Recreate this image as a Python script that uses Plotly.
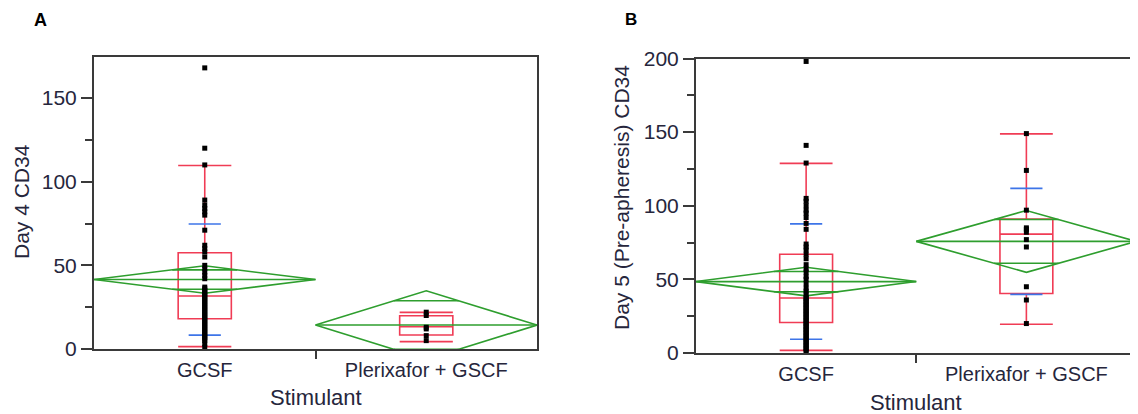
import math
import plotly.graph_objects as go

# ---------------- data ----------------
categories = ["GCSF", "Plerixafor + GSCF"]

# Panel A : Day 4 CD34 (individual values)
a_gcsf_pts = [168, 120, 110, 89, 86, 84, 82, 80, 71, 62, 60, 58, 55, 50, 48, 46, 44, 42,
              37, 36, 35, 34, 33, 32, 31, 30, 29, 28, 27, 26, 25, 24, 23, 22, 21, 20,
              19, 18, 17, 16, 15, 14, 13, 12, 11, 10, 9, 8, 7, 6, 5, 3, 1]
a_plx_pts = [22, 20, 13, 12, 8, 5]

# Panel B : Day 5 (pre-apheresis) CD34
b_gcsf_pts = [198, 141, 129, 105, 103, 100, 97, 95, 92, 88, 84, 74, 72, 70, 67, 64, 60,
              57, 55, 52, 50, 47, 44, 42, 40, 38, 37, 36, 35, 34, 33, 32, 31, 30, 29,
              28, 27, 26, 25, 24, 23, 22, 21, 20, 19, 18, 17, 16, 15, 14, 13, 12, 11,
              10, 9, 8, 7, 6, 5, 4, 3, 2, 1]
b_plx_pts = [149, 124, 97, 85, 84, 82, 77, 72, 45, 36, 20]

# summary statistics (per category)
a_mean = [41.5, 14.3]
a_ci = [8.2, 20.5]
a_sd = [33.2, 0.0]
a_q1 = [18.1, 8.4]
a_median = [31.7, 13.3]
a_q3 = [57.5, 19.9]
a_lo = [1.4, 4.4]
a_hi = [109.7, 21.9]

b_mean = [48.5, 75.8]
b_ci = [9.7, 21.0]
b_sd = [39.2, 36.0]
b_q1 = [20.7, 40.4]
b_median = [37.4, 80.7]
b_q3 = [67.1, 91.0]
b_lo = [1.8, 19.5]
b_hi = [128.8, 148.8]

a_ytitle = "Day 4 CD34"
b_ytitle = "Day 5 (Pre-apheresis) CD34"
xtitle = "Stimulant"

# ---------------- style ----------------
OFF = 8                      # page body margin
W, H = 1138 - OFF, 414 - OFF  # figure size


def px(x):
    return (x - OFF) / W


def py(y):
    return 1 - (y - OFF) / H


GREEN = "#2e9e2e"
RED = "#f03c55"
BLUE = "#3d74e8"
AX = "#3a3a3a"
TXT = "#26263c"
FONT = "Liberation Sans, Arial, sans-serif"

fig = go.Figure()


def add_panel(xa, ya, pts_list, mean, ci, sd, q1, med, q3, lo, hi):
    for i, pts in enumerate(pts_list):
        c = i + 0.5
        # means diamond
        fig.add_trace(go.Scatter(
            x=[c - 0.5, c, c + 0.5, c, c - 0.5],
            y=[mean[i], mean[i] + ci[i], mean[i], mean[i] - ci[i], mean[i]],
            mode="lines", line=dict(color=GREEN, width=1.6),
            xaxis=xa, yaxis=ya, hoverinfo="skip"))
        # mean line
        fig.add_trace(go.Scatter(
            x=[c - 0.5, c + 0.5], y=[mean[i], mean[i]],
            mode="lines", line=dict(color=GREEN, width=1.6),
            xaxis=xa, yaxis=ya, hoverinfo="skip"))
        # overlap marks
        h = ci[i] / math.sqrt(2)
        hw = 0.5 * (1 - 1 / math.sqrt(2))
        for yy in (mean[i] + h, mean[i] - h):
            fig.add_trace(go.Scatter(
                x=[c - hw, c + hw], y=[yy, yy],
                mode="lines", line=dict(color=GREEN, width=1.6),
                xaxis=xa, yaxis=ya, hoverinfo="skip"))
        # box plot
        fig.add_trace(go.Box(
            x=[c], q1=[q1[i]], median=[med[i]], q3=[q3[i]],
            lowerfence=[lo[i]], upperfence=[hi[i]],
            width=0.24, whiskerwidth=1, boxpoints=False,
            line=dict(color=RED, width=1.6), fillcolor="rgba(0,0,0,0)",
            xaxis=xa, yaxis=ya, hoverinfo="skip"))
        # std dev lines
        if sd[i] > 0:
            fig.add_trace(go.Scatter(
                x=[c, c], y=[mean[i] + sd[i], mean[i] - sd[i]],
                mode="markers",
                marker=dict(symbol="line-ew", size=23,
                            line=dict(color=BLUE, width=1.6)),
                xaxis=xa, yaxis=ya, hoverinfo="skip"))
        # data points
        fig.add_trace(go.Scatter(
            x=[c] * len(pts), y=pts, mode="markers",
            marker=dict(symbol="square", size=5, color="black"),
            cliponaxis=False,
            xaxis=xa, yaxis=ya, hoverinfo="skip"))


add_panel("x", "y", [a_gcsf_pts, a_plx_pts], a_mean, a_ci, a_sd,
          a_q1, a_median, a_q3, a_lo, a_hi)
add_panel("x2", "y2", [b_gcsf_pts, b_plx_pts], b_mean, b_ci, b_sd,
          b_q1, b_median, b_q3, b_lo, b_hi)

xcommon = dict(
    range=[0, 2], tickmode="array", tickvals=[0.5, 1.5], ticktext=categories,
    ticks="outside", ticklen=2, tickcolor="rgba(0,0,0,0)",
    minor=dict(tickmode="array", tickvals=[1], ticks="outside", ticklen=8,
               tickcolor=AX, tickwidth=2),
    showline=True, linecolor=AX, linewidth=2, mirror=True,
    showgrid=False, zeroline=False, fixedrange=True, automargin=False,
    tickfont=dict(family=FONT, size=20, color=TXT),
)
ycommon = dict(
    tickmode="linear", tick0=0, dtick=50,
    ticks="outside", ticklen=11, tickcolor=AX, tickwidth=2,
    minor=dict(dtick=25, ticks="outside", ticklen=7, tickcolor=AX, tickwidth=2),
    showline=True, linecolor=AX, linewidth=2, automargin=False,
    showgrid=False, zeroline=False,
    tickfont=dict(family=FONT, size=21, color=TXT),
)

fig.update_layout(
    template="none",
    width=W, height=H,
    margin=dict(l=0, r=0, t=0, b=0, pad=0),
    paper_bgcolor="white", plot_bgcolor="white",
    showlegend=False,
    xaxis=dict(domain=[px(94), px(537)], anchor="y", **xcommon),
    yaxis=dict(domain=[py(349), py(57)], anchor="x",
               range=[0, 174.5], mirror=True, **ycommon),
    xaxis2=dict(domain=[px(696), px(1136.5)], anchor="y2", **xcommon),
    yaxis2=dict(domain=[py(353), py(58.5)], anchor="x2",
                range=[0, 200], **ycommon),
)
fig.update_xaxes(ticklabelstandoff=0)

# right border of panel B is a light grey frame line
fig.add_shape(type="line", xref="x2 domain", yref="y2 domain",
              x0=1, x1=1, y0=0, y1=1, line=dict(color="#c8c8c8", width=1))

ann = [
    dict(text="<b>A</b>", x=40.5, y=20, size=18, color="black"),
    dict(text="<b>B</b>", x=631, y=19, size=17, color="black"),
    dict(text=xtitle, x=315.5, y=397, size=22, color=TXT),
    dict(text=xtitle, x=916, y=402, size=22, color=TXT),
]
for a in ann:
    fig.add_annotation(text=a["text"], x=px(a["x"]), y=py(a["y"]),
                       xref="paper", yref="paper", showarrow=False,
                       xanchor="center", yanchor="middle",
                       font=dict(family=FONT, size=a["size"], color=a["color"]))
for t, x, y in [(a_ytitle, 21, 202), (b_ytitle, 621, 198)]:
    fig.add_annotation(text=t, x=px(x), y=py(y), xref="paper", yref="paper",
                       showarrow=False, textangle=-90, xanchor="center", yanchor="middle",
                       font=dict(family=FONT, size=21, color=TXT))

fig.write_html("out.html")
